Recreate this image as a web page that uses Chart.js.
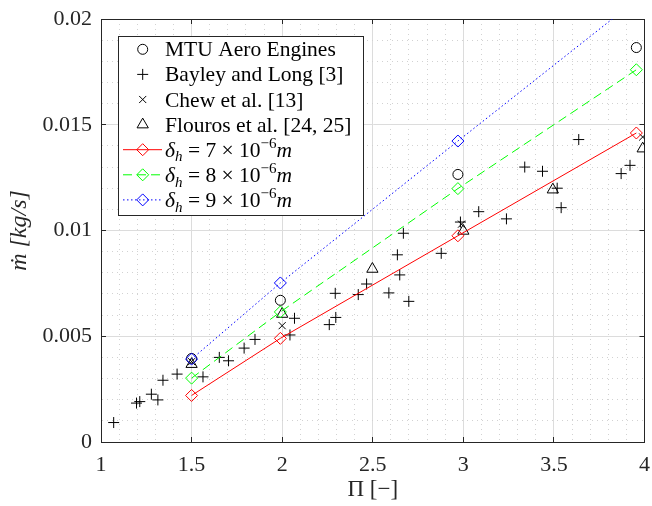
<!DOCTYPE html>
<html>
<head>
<meta charset="utf-8">
<script src="https://cdn.jsdelivr.net/npm/chart.js@4.4.1/dist/chart.umd.min.js"></script>
<style>
  html, body { margin: 0; padding: 0; background: #fff; }
  #c { display: block; }
</style>
</head>
<body>
<canvas id="c" width="652" height="506"></canvas>
<script>
// values
var piModel = [1.5, 1.99, 2.97, 3.955];
var mdotMtu = [0.00395, 0.00670, 0.01265, 0.01865];
var mdotDelta7 = [0.00220, 0.00490, 0.00975, 0.01461];
var mdotDelta8 = [0.00302, 0.00615, 0.01198, 0.01760];
var mdotDelta9 = [0.00392, 0.00752, 0.01423, 0.02090];

var piBayley = [1.07, 1.196, 1.214, 1.278, 1.314, 1.342, 1.42, 1.563, 1.653, 1.704,
  1.79, 1.85, 2.043, 2.068, 2.26, 2.296, 2.293, 2.42, 2.466, 2.589,
  2.649, 2.636, 2.669, 2.699, 2.878, 2.984, 3.085, 3.238, 3.339, 3.437,
  3.518, 3.54, 3.637, 3.871, 3.92];
var mdotBayley = [0.00092, 0.00184, 0.00191, 0.00226, 0.00199, 0.00292, 0.00321, 0.00308, 0.00400, 0.00384,
  0.00444, 0.00485, 0.00506, 0.00585, 0.00555, 0.00589, 0.00703, 0.00697, 0.00747, 0.00705,
  0.00790, 0.00885, 0.00987, 0.00665, 0.00892, 0.01040, 0.01089, 0.01055, 0.01300, 0.01280,
  0.01200, 0.01108, 0.01430, 0.01269, 0.01308];

var piChew = [1.5, 2.0, 2.99, 3.99];
var mdotChew = [0.00380, 0.00550, 0.01030, 0.01442];

var piFlouros = [1.5, 2.0, 2.498, 3.0, 3.494, 3.99];
var mdotFlouros = [0.00368, 0.00605, 0.00818, 0.00998, 0.01193, 0.01387];

var xMin = 1, xMax = 4, xMinor = 0.1, xMajor = 0.5;
var yMin = 0, yMax = 0.02, yMinor = 0.001, yMajor = 0.005;

var serif = '"Liberation Serif", "Times New Roman", serif';

function pts(xs, ys) {
  return xs.map(function (x, i) { return {x: x, y: ys[i]}; });
}

function isMajor(v, step) {
  var k = v / step;
  return Math.abs(k - Math.round(k)) < 1e-6;
}

// legend entries: text runs [text, kind]
var legendRows = [
  {runs: [['MTU Aero Engines', 'n']], style: 'circle', r: 5, color: '#000'},
  {runs: [['Bayley and Long [3]', 'n']], style: 'cross', r: 5.5, color: '#000'},
  {runs: [['Chew et al. [13]', 'n']], style: 'crossRot', r: 5, color: '#000'},
  {runs: [['Flouros et al. [24, 25]', 'n']], style: 'triangle', r: 6.5, color: '#000'},
  {runs: [['δ', 'i'], ['h', 'sub'], [' = 7 × 10', 'n'], ['−6', 'sup'], ['m', 'i']], style: 'rectRot', r: 6, color: '#ff0000', dash: []},
  {runs: [['δ', 'i'], ['h', 'sub'], [' = 8 × 10', 'n'], ['−6', 'sup'], ['m', 'i']], style: 'rectRot', r: 6, color: '#00ff00', dash: [9, 5]},
  {runs: [['δ', 'i'], ['h', 'sub'], [' = 9 × 10', 'n'], ['−6', 'sup'], ['m', 'i']], style: 'rectRot', r: 6, color: '#0000ff', dash: [1.5, 2.5]}
];

function drawRuns(ctx, runs, x, y, size) {
  runs.forEach(function (r) {
    var s = size, dy = 0, st = '';
    if (r[1] === 'i') st = 'italic ';
    if (r[1] === 'sub') { st = 'italic '; s = size * 0.7; dy = size * 0.22; }
    if (r[1] === 'sup') { s = size * 0.7; dy = -size * 0.4; }
    ctx.font = st + s + 'px ' + serif;
    ctx.fillText(r[0], x, y + dy);
    x += ctx.measureText(r[0]).width;
  });
}

var boxLegend = {
  id: 'boxLegend',
  afterDraw: function (chart) {
    var ctx = chart.ctx, ca = chart.chartArea;
    var left = ca.left + 17, top = ca.top + 17, w = 245, h = 179;
    ctx.save();
    ctx.fillStyle = '#fff';
    ctx.fillRect(left, top, w, h);
    ctx.strokeStyle = '#262626';
    ctx.lineWidth = 1;
    ctx.strokeRect(left + 0.5, top + 0.5, w, h);
    legendRows.forEach(function (row, i) {
      var cy = top + 13.3 + i * 25.1;
      var mx = left + 24.7;
      ctx.strokeStyle = row.color;
      ctx.lineWidth = 1;
      if (row.dash) {
        ctx.setLineDash(row.dash);
        ctx.beginPath();
        ctx.moveTo(left + 5, cy);
        ctx.lineTo(left + 44, cy);
        ctx.stroke();
        ctx.setLineDash([]);
      }
      ctx.fillStyle = 'rgba(0,0,0,0)';
      Chart.helpers.drawPoint(ctx, {pointStyle: row.style, radius: row.r, rotation: 0, borderWidth: 1}, mx, cy);
      ctx.fillStyle = '#000';
      ctx.textBaseline = 'alphabetic';
      ctx.textAlign = 'left';
      drawRuns(ctx, row.runs, left + 47, cy + 7, 21.5);
    });
    ctx.restore();
  }
};

function markerSet(label, data, style, r, order) {
  return {
    label: label, data: data, showLine: false, order: order,
    pointStyle: style, pointRadius: r, pointHoverRadius: r,
    borderColor: '#000', backgroundColor: 'rgba(0,0,0,0)', pointBorderWidth: 1
  };
}

function modelSet(label, data, color, dash, order) {
  return {
    label: label, data: data, showLine: true, order: order,
    borderColor: color, backgroundColor: 'rgba(0,0,0,0)', borderWidth: 1, borderDash: dash,
    pointStyle: 'rectRot', pointRadius: 6, pointHoverRadius: 6,
    pointBorderColor: color, pointBackgroundColor: 'rgba(0,0,0,0)', pointBorderWidth: 1,
    tension: 0, clip: 0
  };
}

function gridColor(step, major, minor) {
  return function (c) {
    if (!c.tick) return major;
    return isMajor(c.tick.value, step) ? major : minor;
  };
}
function gridDash(step) {
  return function (c) {
    if (!c.tick) return [];
    return isMajor(c.tick.value, step) ? [] : [1, 4];
  };
}
function tickMarkColor(step) {
  return function (c) {
    if (!c.tick) return 'rgba(0,0,0,0)';
    return isMajor(c.tick.value, step) ? '#262626' : 'rgba(0,0,0,0)';
  };
}

// fixed box sizes so the plot area lands where the original has it
function fixHeight(h) {
  return function (s) { s.height = h; s.paddingLeft = 0; s.paddingRight = 0; };
}
function fixWidth(w) {
  return function (s) { s.width = w; s.paddingTop = 0; s.paddingBottom = 0; };
}

function boxAxis(pos, min, max, step, major, size) {
  return {
    type: 'linear', position: pos, min: min, max: max,
    afterFit: pos === 'top' ? fixHeight(size) : fixWidth(size),
    ticks: {display: false, stepSize: step, autoSkip: false},
    grid: {drawOnChartArea: false, drawTicks: true, tickLength: -5, tickColor: tickMarkColor(major)},
    border: {display: true, color: '#262626', width: 1}
  };
}

new Chart(document.getElementById('c'), {
  type: 'scatter',
  data: {
    datasets: [
      markerSet('MTU Aero Engines', pts(piModel, mdotMtu), 'circle', 5, 5),
      markerSet('Bayley and Long [3]', pts(piBayley, mdotBayley), 'cross', 5.5, 6),
      markerSet('Chew et al. [13]', pts(piChew, mdotChew), 'crossRot', 5, 7),
      markerSet('Flouros et al. [24, 25]', pts(piFlouros, mdotFlouros), 'triangle', 6.5, 8),
      modelSet('delta_h = 7e-6 m', pts(piModel, mdotDelta7), '#ff0000', [], 1),
      modelSet('delta_h = 8e-6 m', pts(piModel, mdotDelta8), '#00ff00', [9, 5], 2),
      modelSet('delta_h = 9e-6 m', pts(piModel, mdotDelta9), '#0000ff', [1.5, 2.5], 3)
    ]
  },
  options: {
    responsive: false,
    animation: false,
    layout: {padding: 0},
    plugins: {
      legend: {display: false},
      tooltip: {enabled: false}
    },
    scales: {
      x: {
        type: 'linear', position: 'bottom', min: xMin, max: xMax,
        afterFit: fixHeight(64),
        ticks: {
          stepSize: xMinor, autoSkip: false, maxRotation: 0, padding: 15,
          color: '#262626', font: {family: serif, size: 22},
          callback: function (v) {
            var k = Math.round(v * 10);
            return k % 5 === 0 ? String(k / 10) : '';
          }
        },
        grid: {
          color: gridColor(xMajor, '#dcdcdc', '#d2d2d2'), lineWidth: 1,
          drawTicks: true, tickLength: -5, tickColor: tickMarkColor(xMajor)
        },
        border: {display: true, color: '#262626', width: 1, dash: gridDash(xMajor)},
        title: {display: true, text: 'Π [−]', color: '#262626', font: {family: serif, size: 23}, padding: {top: 0, bottom: 2}}
      },
      y: {
        type: 'linear', position: 'left', min: yMin, max: yMax,
        afterFit: fixWidth(101),
        ticks: {
          stepSize: yMinor, autoSkip: false, padding: 14,
          color: '#262626', font: {family: serif, size: 22},
          callback: function (v) {
            var k = Math.round(v * 1000);
            return k % 5 === 0 ? String(k / 1000) : '';
          }
        },
        grid: {
          color: gridColor(yMajor, '#dcdcdc', '#d2d2d2'), lineWidth: 1,
          drawTicks: true, tickLength: -5, tickColor: tickMarkColor(yMajor)
        },
        border: {display: true, color: '#262626', width: 1, dash: gridDash(yMajor)},
        title: {display: true, text: 'ṁ [kg/s]', color: '#262626', font: {family: serif, size: 24, style: 'italic'}, padding: {top: 5, bottom: 0}}
      },
      xTop: boxAxis('top', xMin, xMax, xMinor, xMajor, 19),
      yRight: boxAxis('right', yMin, yMax, yMinor, yMajor, 5)
    }
  },
  plugins: [boxLegend]
});
</script>
</body>
</html>
